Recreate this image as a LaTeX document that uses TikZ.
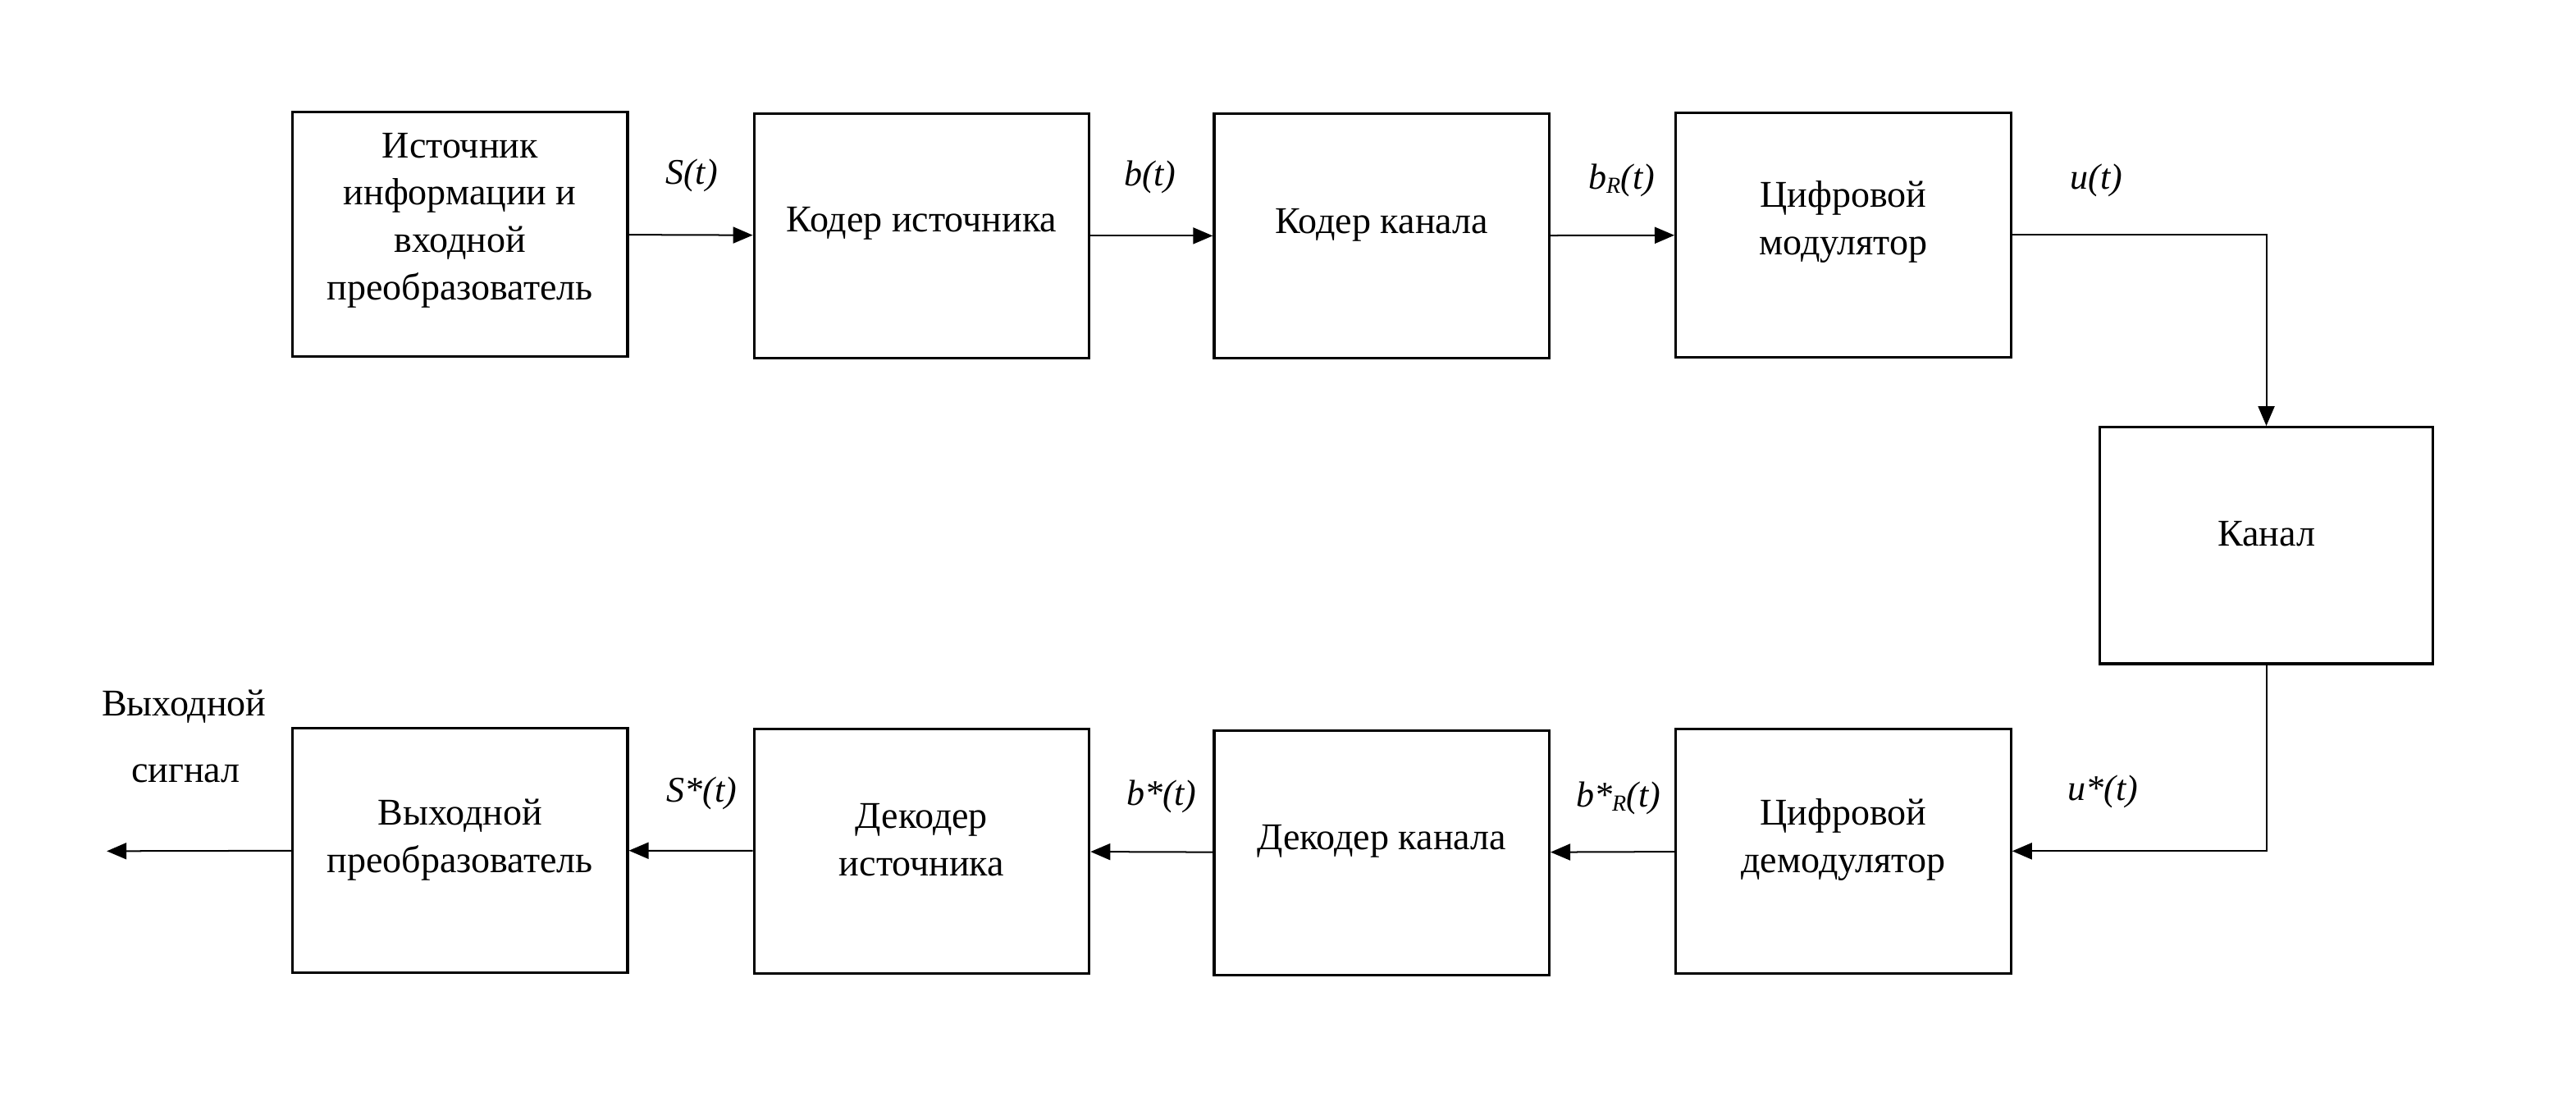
\documentclass[tikz,border=0pt]{standalone}
\usepackage{fontspec}
\setmainfont{Liberation Serif}
\usetikzlibrary{arrows.meta}
\newcommand\lowR{{\fontsize{14}{14}\selectfont\raisebox{-2.5pt}{R}}}
\begin{document}
\begin{tikzpicture}[x=1pt,y=-1pt,
 box/.style={draw, line width=1.6pt, minimum width=204pt, minimum height=149pt, inner sep=0pt},
 txt/.style={align=center, font=\fontsize{23}{28.8}\selectfont, inner sep=0pt},
 lbl/.style={font=\fontsize{22}{25}\selectfont\itshape, inner sep=0pt},
 conn/.style={line width=1pt, -{Triangle[length=12pt,width=10pt]}}]
\useasboundingbox (0,0) rectangle (1568,673.1);
% boxes
\node[box] (a1) at (280,142.5) {};
\node[box] (a2) at (561,143.5) {};
\node[box] (a3) at (841,143.5) {};
\node[box] (a4) at (1122,143) {};
\node[box, minimum width=203pt, minimum height=144pt] (ch) at (1379.5,332) {};
\node[box] (b4) at (1122,518) {};
\node[box] (b3) at (841,519) {};
\node[box] (b2) at (561,518) {};
\node[box] (b1) at (280,517.5) {};
% box texts
\node[txt] (a1t) at (280,134) {Источник\\информации и\\входной\\преобразователь};
\node[txt] (a2t) at (561,136) {Кодер источника};
\node[txt] (a3t) at (841,137) {Кодер канала};
\node[txt] (a4t) at (1122,135) {Цифровой\\модулятор};
\node[txt] (cht) at (1379.5,325) {Канал};
\node[txt] (b4t) at (1122,511) {Цифровой\\демодулятор};
\node[txt] (b3t) at (841,512) {Декодер канала};
\node[txt] (b2t) at (561,511) {Декодер\\источника};
\node[txt] (b1t) at (280,511) {Выходной\\преобразователь};
% connectors
\coordinate (out) at (65,518);
\draw[conn] (a1) -- (a2);
\draw[conn] (a2) -- (a3);
\draw[conn] (a3) -- (a4);
\draw[conn] (a4.east) -| (ch.north);
\draw[conn] (ch.south) |- (b4.east);
\draw[conn] (b4) -- (b3);
\draw[conn] (b3) -- (b2);
\draw[conn] (b2) -- (b1);
\draw[conn] (b1) -- (out);
% labels
\node[lbl] (l1) at (421,107) {S(t)};
\node[lbl] (l2) at (700,108) {b(t)};
\node[lbl] (l3) at (987,110) {b\lowR(t)};
\node[lbl] (l4) at (1276,110) {u(t)};
\node[lbl] (l5) at (427,483) {S*(t)};
\node[lbl] (l6) at (707,485) {b*(t)};
\node[lbl] (l7) at (985,486) {b*\lowR(t)};
\node[lbl] (l8) at (1280,482) {u*(t)};
\node[txt] (o1) at (112,430) {Выходной};
\node[txt] (o2) at (113,471) {сигнал};
\end{tikzpicture}
\end{document}
